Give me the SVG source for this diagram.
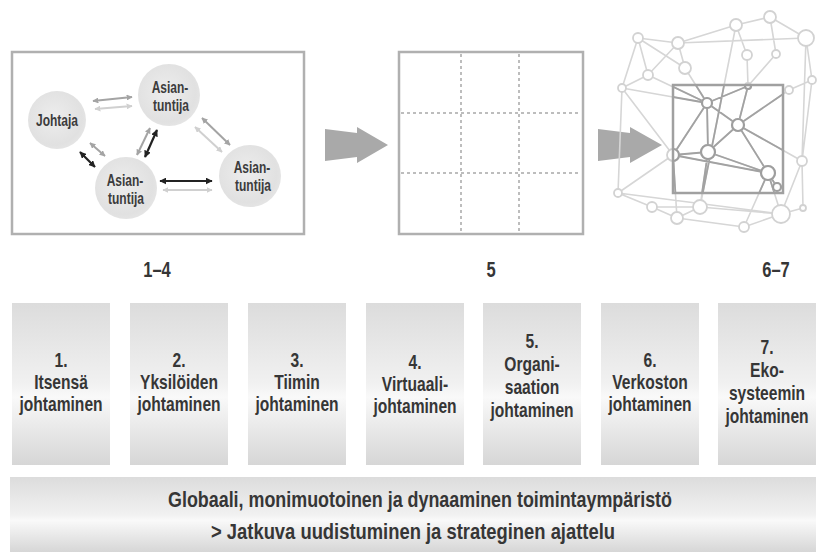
<svg xmlns="http://www.w3.org/2000/svg" xmlns:xlink="http://www.w3.org/1999/xlink" width="818" height="552" viewBox="0 0 818 552">
<style>
.t{font-family:"Liberation Sans",Arial,sans-serif;font-weight:bold;fill:#363636;text-anchor:middle}
.ct{font-size:20px}
.lb{font-size:22px}
.nt{font-size:16px;fill:#3c3c3c}
.frame{fill:none;stroke:#b0b0b0;stroke-width:2.5}
.col{fill:url(#colg)}
.bub{fill:url(#bubg)}
.dk{stroke:#222;stroke-width:2.2;fill:none;marker-start:url(#mDk);marker-end:url(#mDk)}
.gr{stroke:#a4a4a4;stroke-width:2;fill:none;marker-start:url(#mGr);marker-end:url(#mGr)}
.lt{stroke:#d0d0d0;stroke-width:2;fill:none;marker-start:url(#mLt);marker-end:url(#mLt)}
.grid{stroke:#a8a8a8;stroke-width:1.5;stroke-dasharray:3 3;fill:none}
.big{fill:#a9a9a9}
</style>
<defs>
<linearGradient id="colg" x1="0" y1="0" x2="0" y2="1">
<stop offset="0" stop-color="#dcdcdc"/>
<stop offset="0.5" stop-color="#f1f1f1"/>
<stop offset="0.58" stop-color="#f9f9f9"/>
<stop offset="1" stop-color="#d6d6d6"/>
</linearGradient>
<radialGradient id="bubg" cx="0.45" cy="0.45" r="0.6">
<stop offset="0" stop-color="#ededed"/>
<stop offset="0.8" stop-color="#e1e1e1"/>
<stop offset="1" stop-color="#e6e6e6"/>
</radialGradient>
<marker id="mDk" viewBox="0 0 10 10" refX="9" refY="5" markerWidth="7" markerHeight="7" markerUnits="userSpaceOnUse" orient="auto-start-reverse"><path d="M0,0 L10,5 L0,10 z" fill="#222"/></marker>
<marker id="mGr" viewBox="0 0 10 10" refX="9" refY="5" markerWidth="6" markerHeight="6" markerUnits="userSpaceOnUse" orient="auto-start-reverse"><path d="M0,0 L10,5 L0,10 z" fill="#a4a4a4"/></marker>
<marker id="mLt" viewBox="0 0 10 10" refX="9" refY="5" markerWidth="6" markerHeight="6" markerUnits="userSpaceOnUse" orient="auto-start-reverse"><path d="M0,0 L10,5 L0,10 z" fill="#d0d0d0"/></marker>
<clipPath id="boxclip"><rect x="673" y="85" width="110" height="108"/></clipPath>
<g id="netlines">
<path d="M638,38 L678,43 M638,38 L622,88 M638,38 L685,68 M638,38 L648,75 M678,43 L806,38 M648,75 L622,88 M648,75 L678,43 M678,43 L685,68 M685,68 L707,103 M648,75 L707,103 M622,88 L707,103 M622,88 L673,155 M622,88 L618,193 M736,25 L770,17 M736,25 L678,43 M736,25 L747,55 M736,25 L700,207 M770,17 L806,38 M770,17 L776,54 M806,38 L812,80 M806,38 L802,161 M747,55 L748,86 M776,54 L748,86 M748,86 L707,103 M748,86 L738,125 M812,80 L789,90 M789,90 L738,125 M812,80 L802,161 M707,103 L738,125 M707,103 L708,152 M707,103 L673,155 M738,125 L708,152 M738,125 L768,173 M738,125 L802,161 M708,152 L673,155 M708,152 L768,173 M673,155 L768,173 M673,155 L618,193 M673,155 L677,218 M708,152 L700,207 M768,173 L777,187 M768,173 L781,214 M768,173 L744,227 M802,161 L781,214 M802,161 L803,208 M618,193 L652,207 M618,193 L781,214 M652,207 L700,207 M652,207 L677,218 M700,207 L677,218 M700,207 L781,214 M677,218 L744,227 M744,227 L781,214 M781,214 L803,208"/>
</g>
<g id="netnodes">
<circle cx="638" cy="38" r="5"/><circle cx="678" cy="43" r="6"/><circle cx="685" cy="68" r="6"/><circle cx="648" cy="75" r="5"/><circle cx="622" cy="88" r="4"/>
<circle cx="736" cy="25" r="6"/><circle cx="770" cy="17" r="6"/><circle cx="806" cy="38" r="8"/><circle cx="747" cy="55" r="5"/><circle cx="776" cy="54" r="4"/><circle cx="812" cy="80" r="4"/>
<circle cx="707" cy="103" r="5"/><circle cx="738" cy="125" r="6"/><circle cx="708" cy="152" r="7"/><circle cx="673" cy="155" r="6"/><circle cx="768" cy="173" r="7"/><circle cx="777" cy="187" r="4"/><circle cx="802" cy="161" r="5"/>
<circle cx="618" cy="193" r="4"/><circle cx="652" cy="207" r="5"/><circle cx="700" cy="207" r="7"/><circle cx="677" cy="218" r="6"/><circle cx="744" cy="227" r="5"/><circle cx="781" cy="214" r="9"/><circle cx="803" cy="208" r="3"/><circle cx="748" cy="86" r="3"/><circle cx="789" cy="90" r="4"/>
</g>
</defs>
<rect width="818" height="552" fill="#fff"/>

<g id="panel-1-4">
<rect class="frame" x="12" y="52" width="292" height="182"/>
<text class="t lb" transform="translate(157,277) scale(0.75,1)">1–4</text>
</g>

<g id="connectors">
<line class="gr" x1="93" y1="101" x2="132" y2="97"/>
<line class="lt" x1="95" y1="109" x2="132" y2="106"/>
<line class="dk" x1="80" y1="152" x2="95" y2="167"/>
<line class="gr" x1="90" y1="143" x2="105" y2="156"/>
<line class="gr" x1="150" y1="128" x2="137" y2="155"/>
<line class="dk" x1="157" y1="130" x2="145" y2="157"/>
<line class="gr" x1="202" y1="118" x2="230" y2="145"/>
<line class="lt" x1="195" y1="127" x2="222" y2="152"/>
<line class="dk" x1="160" y1="181" x2="212" y2="181"/>
<line class="lt" x1="163" y1="190" x2="212" y2="190"/>
<polygon class="big" points="325,129 357,133 357,127 388,145 357,163 357,157 325,161"/>
<polygon class="big" points="598,129 630,133 630,127 662,145 630,163 630,157 598,161"/>
</g>

<g id="node-johtaja">
<circle class="bub" cx="57" cy="120" r="29"/>
<text class="t nt" transform="translate(57,126) scale(0.75,1)">Johtaja</text>
</g>
<g id="node-asiantuntija-top">
<circle class="bub" cx="169" cy="95" r="31"/>
<text class="t nt" transform="translate(170,93) scale(0.75,1)">Asian-</text>
<text class="t nt" transform="translate(171,111) scale(0.75,1)">tuntija</text>
</g>
<g id="node-asiantuntija-bottom">
<circle class="bub" cx="126" cy="188" r="31"/>
<text class="t nt" transform="translate(125,186) scale(0.75,1)">Asian-</text>
<text class="t nt" transform="translate(126,204) scale(0.75,1)">tuntija</text>
</g>
<g id="node-asiantuntija-right">
<circle class="bub" cx="250" cy="176" r="31"/>
<text class="t nt" transform="translate(252,173) scale(0.75,1)">Asian-</text>
<text class="t nt" transform="translate(253,191) scale(0.75,1)">tuntija</text>
</g>

<g id="panel-5">
<rect class="frame" x="399" y="52" width="184" height="182"/>
<path class="grid" d="M461,54 V232 M519,54 V232 M401,113 H581 M401,173 H581"/>
<text class="t lb" transform="translate(491,277) scale(0.75,1)">5</text>
</g>

<g id="panel-6-7">
<use xlink:href="#netlines" stroke="#d6d6d6" stroke-width="1.6" fill="none"/>
<use xlink:href="#netlines" stroke="#a2a2a2" stroke-width="1.8" fill="none" clip-path="url(#boxclip)"/>
<use xlink:href="#netnodes" stroke="#d2d2d2" stroke-width="1.8" fill="#fff"/>
<use xlink:href="#netnodes" stroke="#9e9e9e" stroke-width="2.2" fill="#fff" clip-path="url(#boxclip)"/>
<rect x="673" y="85" width="110" height="108" fill="none" stroke="#a0a0a0" stroke-width="2.5"/>
<text class="t lb" transform="translate(776,277) scale(0.75,1)">6–7</text>
</g>

<g id="col-1">
<rect class="col" x="12" y="303" width="98" height="162"/>
<text class="t ct" transform="translate(61,367) scale(0.78,1)">1.</text>
<text class="t ct" transform="translate(61,389) scale(0.78,1)">Itsensä</text>
<text class="t ct" transform="translate(61,411) scale(0.78,1)">johtaminen</text>
</g>
<g id="col-2">
<rect class="col" x="130" y="303" width="98" height="162"/>
<text class="t ct" transform="translate(179,367) scale(0.78,1)">2.</text>
<text class="t ct" transform="translate(179,389) scale(0.78,1)">Yksilöiden</text>
<text class="t ct" transform="translate(179,411) scale(0.78,1)">johtaminen</text>
</g>
<g id="col-3">
<rect class="col" x="248" y="303" width="98" height="162"/>
<text class="t ct" transform="translate(297,367) scale(0.78,1)">3.</text>
<text class="t ct" transform="translate(297,389) scale(0.78,1)">Tiimin</text>
<text class="t ct" transform="translate(297,411) scale(0.78,1)">johtaminen</text>
</g>
<g id="col-4">
<rect class="col" x="366" y="303" width="98" height="162"/>
<text class="t ct" transform="translate(415,369) scale(0.78,1)">4.</text>
<text class="t ct" transform="translate(415,391) scale(0.78,1)">Virtuaali-</text>
<text class="t ct" transform="translate(415,413) scale(0.78,1)">johtaminen</text>
</g>
<g id="col-5">
<rect class="col" x="483" y="303" width="98" height="162"/>
<text class="t ct" transform="translate(532,348) scale(0.78,1)">5.</text>
<text class="t ct" transform="translate(532,371) scale(0.78,1)">Organi-</text>
<text class="t ct" transform="translate(532,394) scale(0.78,1)">saation</text>
<text class="t ct" transform="translate(532,417) scale(0.78,1)">johtaminen</text>
</g>
<g id="col-6">
<rect class="col" x="601" y="303" width="98" height="162"/>
<text class="t ct" transform="translate(650,367) scale(0.78,1)">6.</text>
<text class="t ct" transform="translate(650,389) scale(0.78,1)">Verkoston</text>
<text class="t ct" transform="translate(650,411) scale(0.78,1)">johtaminen</text>
</g>
<g id="col-7">
<rect class="col" x="718" y="303" width="98" height="162"/>
<text class="t ct" transform="translate(767,354) scale(0.78,1)">7.</text>
<text class="t ct" transform="translate(767,377) scale(0.78,1)">Eko-</text>
<text class="t ct" transform="translate(767,400) scale(0.78,1)">systeemin</text>
<text class="t ct" transform="translate(767,423) scale(0.78,1)">johtaminen</text>
</g>

<g id="bottom-bar">
<rect class="col" x="10" y="477" width="806" height="75"/>
<text class="t lb" x="420" y="507" textLength="504" lengthAdjust="spacingAndGlyphs">Globaali, monimuotoinen ja dynaaminen toimintaympäristö</text>
<text class="t lb" x="413" y="539" textLength="404" lengthAdjust="spacingAndGlyphs">&gt; Jatkuva uudistuminen ja strateginen ajattelu</text>
</g>
</svg>
